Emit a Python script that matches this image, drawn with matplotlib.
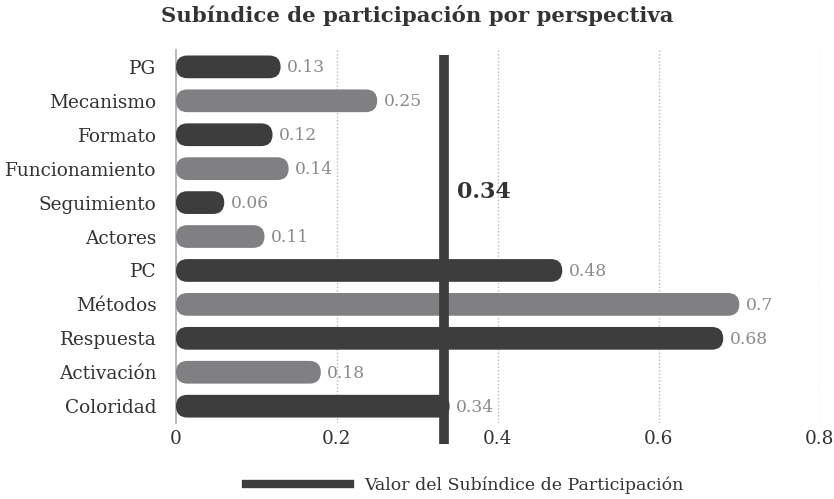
import matplotlib
matplotlib.use("Agg")
import matplotlib.pyplot as plt
from matplotlib.patches import FancyBboxPatch
from matplotlib.lines import Line2D

plt.rcParams['font.family'] = ['DejaVu Serif']

categorias = ['PG', 'Mecanismo', 'Formato', 'Funcionamiento', 'Seguimiento',
              'Actores', 'PC', 'Métodos', 'Respuesta', 'Activación', 'Coloridad']
valores = [0.13, 0.25, 0.12, 0.14, 0.06, 0.11, 0.48, 0.70, 0.68, 0.18, 0.34]
etiquetas = ['0.13', '0.25', '0.12', '0.14', '0.06', '0.11', '0.48', '0.7', '0.68', '0.18', '0.34']
subindice = 0.333
subindice_txt = '0.34'
xticks = [0, 0.2, 0.4, 0.6, 0.8]
xticklabels = ['0', '0.2', '0.4', '0.6', '0.8']

oscuro = '#3d3d3d'
claro = '#808083'
colores = [oscuro if i % 2 == 0 else claro for i in range(len(categorias))]

fig = plt.figure(figsize=(8.34, 4.99), dpi=100)
ax = fig.add_axes([0.211, 0.152, 0.772, 0.748])
ax.set_xlim(0, 0.8)
ax.set_ylim(len(categorias) - 0.5, -0.5)

# escala de pixeles para redondear las barras
fig.canvas.draw()
p0 = ax.transData.transform((0, 0))
p1 = ax.transData.transform((1, 1))
px_x = abs(p1[0] - p0[0])
px_y = abs(p1[1] - p0[1])

alto = 0.67
r_px = alto * px_y / 2
r_x = r_px / px_x
aspecto = (r_px / px_y) / r_x

for i, (v, c) in enumerate(zip(valores, colores)):
    caja = FancyBboxPatch((0, i - alto / 2), v, alto,
                          boxstyle="round,pad=0,rounding_size=%f" % r_x,
                          mutation_aspect=aspecto, fc=c, ec='none', zorder=3)
    ax.add_patch(caja)
    ax.text(v + 0.008, i + 0.03, etiquetas[i], va='center', ha='left',
            fontsize=12.3, color='#8a8a8a', zorder=4)

for xt in xticks[1:]:
    ax.axvline(xt, color='#bbbbbb', lw=1, ls=(0, (1, 1.5)), zorder=1)

ax.plot([subindice, subindice], [-0.35, 11.1], color=oscuro, lw=7,
        clip_on=False, zorder=5, solid_capstyle='butt')
ax.text(subindice + 0.016, 3.7, subindice_txt, fontsize=16, fontweight='bold',
        color='#333333', va='center', ha='left')

ax.set_yticks(range(len(categorias)))
ax.set_yticklabels(categorias, fontsize=13.3, color='#333333')
ax.set_xticks(xticks)
ax.set_xticklabels(xticklabels, fontsize=13.3, color='#333333')
ax.tick_params(length=0)
ax.tick_params(axis='x', pad=5)
ax.tick_params(axis='y', pad=14)
for s in ['top', 'right', 'bottom']:
    ax.spines[s].set_visible(False)
ax.spines['left'].set_color('#aaaaaa')
ax.spines['left'].set_linewidth(1.2)

fig.suptitle('Subíndice de participación por perspectiva', x=0.5, y=0.99,
             fontsize=15.3, fontweight='bold', color='#333333')

h = Line2D([], [], color=oscuro, lw=6)
fig.legend([h], ['Valor del Subíndice de Participación'], loc='center',
           bbox_to_anchor=(0.557, 0.028), frameon=False, fontsize=12.5,
           handlelength=6, labelcolor='#333333')

fig.savefig('out.png', dpi=100)
